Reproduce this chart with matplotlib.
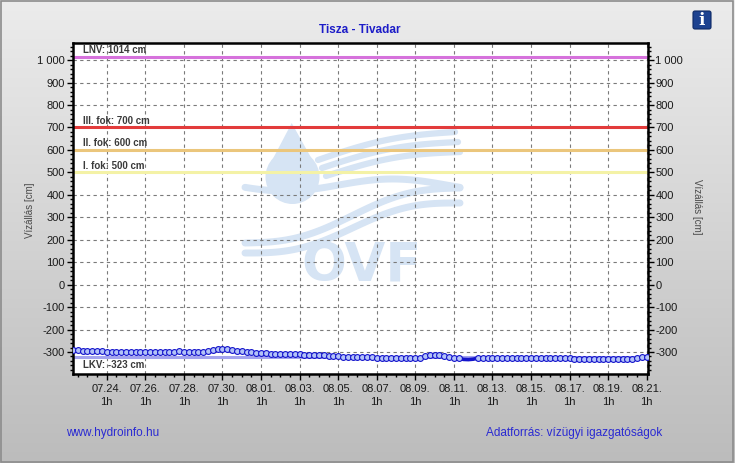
# Vízállás idősor – Tisza, Tivadar (hydroinfo stílusú ábra)

import numpy as np
import pandas as pd
import matplotlib
matplotlib.use("Agg")
import matplotlib.pyplot as plt
import matplotlib.dates as mdates
from matplotlib.patches import Rectangle, FancyBboxPatch, Circle, Polygon
from matplotlib.ticker import MultipleLocator, FuncFormatter

plt.rcParams['font.family'] = ['Liberation Sans', 'DejaVu Sans']

# --- adatok ---
allomas = "Tisza - Tivadar"
kezdes = "2024-07-22 07:00"   # 6 órás mérések
vizallas = [
    -292, -293, -294, -295, -295, -296, -297,
    -298, -298, -299, -300, -300, -301, -301, -301,
    -302, -301, -301, -300, -300, -299, -298, -297,
    -298, -299, -300, -301, -300,
    -297, -292, -287, -285, -287, -290, -294, -297,
    -300, -302, -304, -305, -306, -307, -308, -309, -309, -310, -310,
    -311, -312, -313, -313, -314, -315, -316, -318, -320,
    -321, -322, -322, -323, -323, -324, -324, -325, -325, -326, -326, -327, -327, -328, -328,
    -328, -326, -320, -314, -313, -315, -318, -322, -326,
    -328, -333, -334, -332, -327,
    -326, -326, -325, -325, -326, -326, -326, -327, -327, -327, -327, -326, -326, -327, -327, -327, -326, -326,
    -328, -329, -330, -331, -331, -332, -332, -332, -332, -333, -333, -332, -332,
    -330, -325, -322, -322,
]
jel_nelkul = [81, 82, 83]   # jelölő nélküli (hiányzó) szakasz

szint_nev = ["LNV: 1014 cm", "III. fok: 700 cm", "II. fok: 600 cm", "I. fok: 500 cm", "LKV: -323 cm"]
szint_ertek = [1014, 700, 600, 500, -323]
szint_szin = ['#d672dc', '#e23b3b', '#ebc67c', '#f4f2a6', '#a3a3ee']

tick_kezdes = "2024-07-24 01:00"
tick_vege = "2024-08-21 01:00"

idopont = pd.date_range(kezdes, periods=len(vizallas), freq='6h')

W, H = 735, 463
fig = plt.figure(figsize=(W / 100, H / 100), dpi=100)

# háttér réteg pixel koordinátákban
bg = fig.add_axes([0, 0, 1, 1], zorder=0)
bg.set_xlim(0, W)
bg.set_ylim(H, 0)
bg.axis('off')
grad = np.linspace(0, 1, 256).reshape(-1, 1)
bg.imshow(grad, extent=(0, W, H, 0), aspect='auto',
          cmap=matplotlib.colors.LinearSegmentedColormap.from_list('g', ['#ececec', '#bcbcbc']))
bg.add_patch(Rectangle((0.5, 0.5), W - 2, H - 2, fill=False, ec='#8c8c8c', lw=1.2))

# rajzterület fehér alapja
px0, py0, px1, py1 = 72.7, 43.3, 647.7, 374.0
bg.add_patch(Rectangle((px0, py0), px1 - px0, py1 - py0, fc='white', ec='none'))

# OVF vízjel
wm = '#d6e4f4'
bg.add_patch(Circle((292.5, 177), 27, fc=wm, ec='none'))
bg.add_patch(Polygon([(291.7, 123), (267, 170), (318, 170)], closed=True, fc=wm, ec='none'))
t = np.linspace(0, 1, 100)
for y0, dy, xa, xb in [(160, -28, 318, 455), (168, -26, 322, 458), (176, -24, 326, 460)]:
    xs = xa + (xb - xa) * t
    ys = y0 + dy * t - 6 * np.sin(np.pi * t)
    bg.plot(xs, ys, color=wm, lw=4.5, solid_capstyle='round')
xs = 245 + 215 * t
bg.plot(xs, 185 + 6 * np.sin(2 * np.pi * t + 0.4), color=wm, lw=5, solid_capstyle='round')
bg.plot(xs, 243 - 55 * t + 8 * np.sin(2 * np.pi * t), color=wm, lw=5, solid_capstyle='round')
bg.plot(xs, 253 - 50 * t + 8 * np.sin(2 * np.pi * t), color=wm, lw=5, solid_capstyle='round')
bg.text(362, 266, "OVF", color=wm, fontsize=38, fontweight='bold',
        family='DejaVu Sans', ha='center', va='center')

# info ikon
bg.add_patch(FancyBboxPatch((693, 11), 18, 18, boxstyle='round,pad=0,rounding_size=2',
                            fc='#1d4290', ec='#0e2a66', lw=0.8))
bg.text(702, 20.5, "i", color='white', fontsize=12, fontweight='bold',
        family='DejaVu Serif', ha='center', va='center')

# --- fő tengely ---
ax = fig.add_axes([px0 / W, 1 - py1 / H, (px1 - px0) / W, (py1 - py0) / H], zorder=1)
ax.set_facecolor('none')

ax.set_xlim(pd.Timestamp("2024-07-22 06:40"), pd.Timestamp("2024-08-21 02:10"))
ax.set_ylim(-398, 1075)

# vízszintek
for nev, ertek, szin in zip(szint_nev, szint_ertek, szint_szin):
    ax.axhline(ertek, color=szin, lw=2.2, zorder=2)
    dy = -7.8 if ertek < 0 else 6.5
    ax.annotate(nev, (0, ertek), xycoords=('axes fraction', 'data'),
                xytext=(10.5, dy), textcoords='offset pixels',
                ha='left', va='center', fontsize=7, fontweight='bold', color='#3a3a3a')

# mért adatok
jelolt = [i for i in range(len(vizallas)) if i not in jel_nelkul]
ax.plot(idopont, vizallas, color='#1414cc', lw=1.2, marker='o', ms=4.2,
        mfc='#b3c3f7', mec='#1414cc', mew=0.8, markevery=jelolt, zorder=4)
a, b = jel_nelkul[0] - 1, jel_nelkul[-1] + 2
ax.plot(idopont[a:b], vizallas[a:b], color='#1414cc', lw=2.6, zorder=3)

# tengelyek, rács
ax.set_xticks(pd.date_range(tick_kezdes, tick_vege, freq='2D'))
ax.set_xticks(pd.date_range("2024-07-22 13:00", tick_vege, freq='12h'), minor=True)
ax.xaxis.set_major_formatter(mdates.DateFormatter('%m.%d.\n1h'))
ax.yaxis.set_major_locator(MultipleLocator(100))
ax.yaxis.set_minor_locator(MultipleLocator(20))
ax.yaxis.set_major_formatter(FuncFormatter(lambda v, p: f"{int(v):,}".replace(",", " ")))

ax.grid(True, which='major', color='#7a7a7a', lw=0.8, linestyle=(0, (3, 3)), zorder=1)
ax.set_axisbelow(True)
ax.tick_params(which='both', direction='out', color='black', labelsize=8,
               labelcolor='#1a1a1a', left=True, right=True, labelright=True)
ax.tick_params(which='major', length=4.5, width=1)
ax.tick_params(which='minor', length=2.5, width=1)
ax.tick_params(axis='y', pad=1)
ax.tick_params(axis='x', pad=3)
for lab in ax.get_xticklabels():
    lab.set_linespacing(1.3)
for s in ax.spines.values():
    s.set_linewidth(1.8)
    s.set_color('black')

# szövegek
fig.text(360 / W, 1 - 30 / H, allomas, color='#1d1dc8', fontsize=8.5, fontweight='bold',
         ha='center', va='center')
fig.text(30 / W, 1 - 210 / H, "Vízállás [cm]", rotation=90, fontsize=7, color='#4a4a4a',
         ha='center', va='center')
fig.text(697 / W, 1 - 207 / H, "Vízállás [cm]", rotation=270, fontsize=7, color='#4a4a4a',
         ha='center', va='center')
fig.text(66 / W, 1 - 433 / H, "www.hydroinfo.hu", color='#2a2ad2', fontsize=8.5,
         ha='left', va='center')
fig.text(662 / W, 1 - 433 / H, "Adatforrás: vízügyi igazgatóságok", color='#2a2ad2',
         fontsize=8.5, ha='right', va='center')

fig.savefig("out.png", dpi=100)
